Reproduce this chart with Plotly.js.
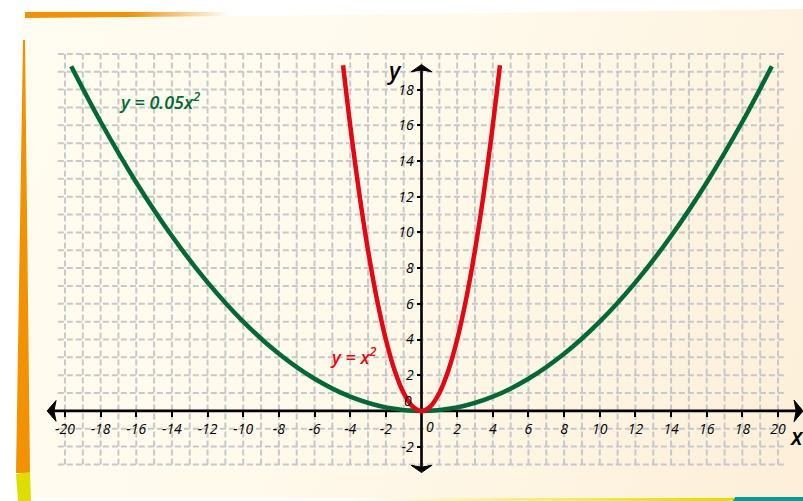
<!DOCTYPE html>
<html>
<head>
<meta charset="utf-8">
<script src="https://cdn.plot.ly/plotly-3.0.1.min.js"></script>
<style>
  html, body { margin: 0; padding: 0; background: #fff; }
  #sheet { position: relative; width: 803px; height: 501px; overflow: hidden; background: #fff; }
  .deco { position: absolute; left: 0; top: 0; width: 803px; height: 501px; }
  #paper { background: linear-gradient(115deg, #FFFCF1 0%, #FFFAEC 45%, #FDEFD9 100%);
           clip-path: polygon(20px 19px, 803px 9px, 803px 498px, 30px 498px); }
  #topband { background: linear-gradient(90deg, #F39200 0px, #F39200 130px, rgba(243,146,0,0) 230px);
             clip-path: polygon(25px 12px, 240px 12px, 240px 16px, 25px 18px); }
  #leftband { background: #F39200; clip-path: polygon(23px 40px, 25px 40px, 30px 473px, 16px 473px); }
  #leftyellow { background: #DFDC00; clip-path: polygon(16px 474px, 30px 472px, 31px 501px, 18px 501px); }
  #bottomband { background: linear-gradient(90deg, rgba(230,220,0,0) 350px, #E6DC00 720px);
                clip-path: polygon(0 498px, 735px 498px, 733px 501px, 0 501px); }
  #teal { background: #009E96; clip-path: polygon(735px 497px, 803px 497px, 803px 501px, 733px 501px); }
  #chart { position: absolute; left: 0; top: 0; width: 803px; height: 501px; }
</style>
</head>
<body>
<div id="sheet">
  <div class="deco" id="paper"></div>
  <div class="deco" id="topband"></div>
  <div class="deco" id="leftband"></div>
  <div class="deco" id="leftyellow"></div>
  <div class="deco" id="bottomband"></div>
  <div class="deco" id="teal"></div>
  <div id="chart"></div>
</div>
<script>
// y = 0.05x^2
const greenX = [-19.65, -18, -16, -14, -12, -10, -8, -6, -4, -2, 0, 2, 4, 6, 8, 10, 12, 14, 16, 18, 19.65];
const greenY = [19.31, 16.2, 12.8, 9.8, 7.2, 5, 3.2, 1.8, 0.8, 0.2, 0, 0.2, 0.8, 1.8, 3.2, 5, 7.2, 9.8, 12.8, 16.2, 19.31];

// y = x^2
const redX = [-4.4, -4, -3.5, -3, -2.5, -2, -1.5, -1, -0.5, 0, 0.5, 1, 1.5, 2, 2.5, 3, 3.5, 4, 4.4];
const redY = [19.36, 16, 12.25, 9, 6.25, 4, 2.25, 1, 0.25, 0, 0.25, 1, 2.25, 4, 6.25, 9, 12.25, 16, 19.36];

// tick labels
const xTickVals = [-20, -18, -16, -14, -12, -10, -8, -6, -4, -2, 2, 4, 6, 8, 10, 12, 14, 16, 18, 20];
const xTickText = ['-20', '-18', '-16', '-14', '-12', '-10', '-8', '-6', '-4', '-2', '2', '4', '6', '8', '10', '12', '14', '16', '18', '20'];
const yTickVals = [-2, 2, 4, 6, 8, 10, 12, 14, 16, 18];
const yTickText = ['-2', '2', '4', '6', '8', '10', '12', '14', '16', '18'];

const GREEN = '#006837';
const RED = '#E30613';
const FONT = 'Open Sans, Noto Sans, sans-serif';

const xRange = [-21.4, 21.4];
const yRange = [-3.87, 20.78];

// squared paper: dashed lines on every unit
const gridX = [-20, 20], gridY = [-3, 20];
const shapes = [];
const gridLine = { color: '#C8C8C8', width: 2, dash: '6px,3px' };
for (let y = gridY[0]; y <= gridY[1]; y++) {
  shapes.push({ type: 'line', xref: 'x', yref: 'y', layer: 'below',
    x0: gridX[0] - 0.4, x1: gridX[1] + 0.4, y0: y, y1: y, line: gridLine });
}
for (let x = gridX[0]; x <= gridX[1]; x++) {
  shapes.push({ type: 'line', xref: 'x', yref: 'y', layer: 'below',
    x0: x, x1: x, y0: gridY[0], y1: gridY[1], line: gridLine });
}

// coordinate axes with arrowheads
const axisLine = { color: '#000', width: 2.6 };
shapes.push({ type: 'line', xref: 'x', yref: 'y', layer: 'below', x0: -20.7, x1: 21.1, y0: 0, y1: 0, line: axisLine });
shapes.push({ type: 'line', xref: 'x', yref: 'y', layer: 'below', x0: 0, x1: 0, y0: -3.2, y1: 19.2, line: axisLine });
const head = { type: 'path', xref: 'x', yref: 'y', layer: 'below', fillcolor: '#000', line: { color: '#000', width: 1 } };
shapes.push(Object.assign({}, head, { path: 'M -21.0,0 L -20.5,0.58 L -20.62,0 L -20.5,-0.58 Z' }));
shapes.push(Object.assign({}, head, { path: 'M 21.4,0 L 20.9,0.6 L 21.02,0 L 20.9,-0.6 Z' }));
shapes.push(Object.assign({}, head, { path: 'M 0,19.4 L -0.58,19.0 L 0,19.1 L 0.58,19.0 Z' }));
shapes.push(Object.assign({}, head, { path: 'M 0,-3.45 L -0.58,-3.05 L 0,-3.15 L 0.58,-3.05 Z' }));

const traces = [
  { x: greenX, y: greenY, type: 'scatter', mode: 'lines', line: { color: GREEN, width: 4.5, shape: 'spline', smoothing: 1 }, hoverinfo: 'skip' },
  { x: redX, y: redY, type: 'scatter', mode: 'lines', line: { color: RED, width: 4.5, shape: 'spline', smoothing: 1 }, hoverinfo: 'skip' }
];

const tickFont = { family: FONT, size: 14, color: '#000', style: 'italic', weight: 500 };

const annotations = [
  { x: -0.75, y: 0.58, xref: 'x', yref: 'y', text: '0', showarrow: false, font: tickFont },
  { x: 0.5, y: -0.86, xref: 'x', yref: 'y', text: '0', showarrow: false, font: tickFont },
  { x: -1.5, y: 19.1, xref: 'x', yref: 'y', text: 'y', showarrow: false,
    font: { family: FONT, size: 23, color: '#000', style: 'italic', weight: 600 } },
  { x: 21.06, y: -1.4, xref: 'x', yref: 'y', text: 'x', showarrow: false,
    font: { family: FONT, size: 23, color: '#000', style: 'italic', weight: 600 } },
  { x: -17.1, y: 17.35, xref: 'x', yref: 'y', xanchor: 'left', text: 'y = 0.05x<sup>2</sup>', showarrow: false,
    font: { family: FONT, size: 18, color: GREEN, style: 'italic', weight: 600 } },
  { x: -5.25, y: 3.05, xref: 'x', yref: 'y', xanchor: 'left', text: 'y = x<sup>2</sup>', showarrow: false,
    font: { family: FONT, size: 18, color: RED, style: 'italic', weight: 600 } }
];

const layout = {
  width: 803, height: 501,
  margin: { l: 40, r: 0, t: 40, b: 21, pad: 0 },
  paper_bgcolor: 'rgba(0,0,0,0)',
  plot_bgcolor: 'rgba(0,0,0,0)',
  showlegend: false,
  xaxis: {
    range: xRange, anchor: 'free', position: (0 - yRange[0]) / (yRange[1] - yRange[0]),
    showgrid: false, zeroline: false, showline: false,
    tickmode: 'array', tickvals: xTickVals, ticktext: xTickText,
    ticks: 'outside', ticklen: 5, tickwidth: 2, tickcolor: '#000',
    tickfont: tickFont, fixedrange: true
  },
  yaxis: {
    range: yRange, anchor: 'free', position: (0 - xRange[0]) / (xRange[1] - xRange[0]),
    showgrid: false, zeroline: false, showline: false,
    tickmode: 'array', tickvals: yTickVals, ticktext: yTickText,
    ticks: 'outside', ticklen: 5, tickwidth: 2, tickcolor: '#000',
    tickfont: tickFont, fixedrange: true
  },
  shapes: shapes,
  annotations: annotations
};

Plotly.newPlot('chart', traces, layout, { staticPlot: true, displayModeBar: false });
</script>
</body>
</html>
